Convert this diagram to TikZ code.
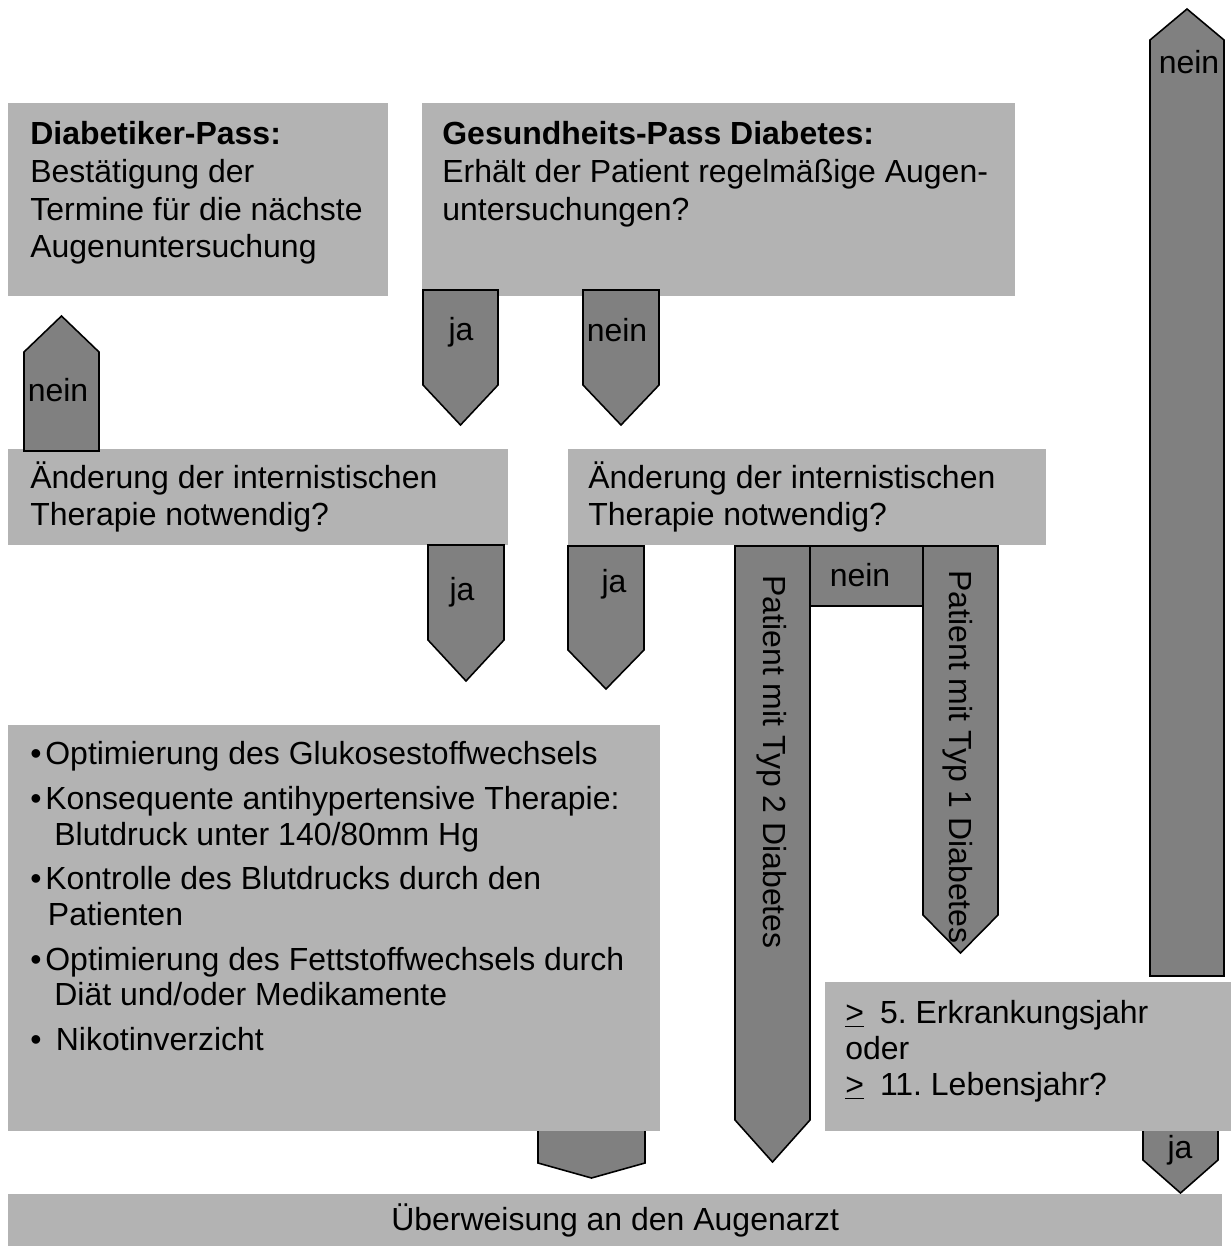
\documentclass[tikz,border=0pt]{standalone}
\usepackage{fontspec}
\setmainfont{Liberation Sans}
\usetikzlibrary{positioning}
\definecolor{boxgray}{RGB}{179,179,179}
\definecolor{arrowgray}{RGB}{128,128,128}
\frenchspacing

\begin{document}
\begin{tikzpicture}[
    x=0.02cm, y=-0.02cm, % pixel grid, y down
    % --- STYLES ---
    box/.style={fill=boxgray, draw=none, inner sep=0pt, anchor=north west},
    txt/.style={inner sep=0pt, anchor=north west, align=left, font=\fontsize{18.2}{21.5}\selectfont},
    blockarrow/.style={fill=arrowgray, draw=black, line width=0.9pt, line join=miter},
    lbl/.style={inner sep=0pt, font=\fontsize{18.2}{21.5}\selectfont}
]
\useasboundingbox (0,0) rectangle (1231,1246);

% --- ARROWS BEHIND BOXES ---
\draw [blockarrow] (538,1120) -- (645,1120) -- (645,1163) -- (591.5,1178) -- (538,1163) -- cycle;
\draw [blockarrow] (1143,1120) -- (1218,1120) -- (1218,1160) -- (1180.5,1193) -- (1143,1160) -- cycle;

% --- BOXES ---
\node (dpass) [box, minimum width=7.6cm, minimum height=3.86cm] at (8,103) {};
\node (gpass) [box, minimum width=11.86cm, minimum height=3.86cm] at (422,103) {};
\node (aend_l) [box, minimum width=10cm, minimum height=1.92cm] at (8,449) {};
\node (aend_r) [box, minimum width=9.56cm, minimum height=1.92cm] at (568,449) {};
\node (massn) [box, minimum width=13.04cm, minimum height=8.12cm] at (8,725) {};
\node (alter) [box, minimum width=8.12cm, minimum height=2.98cm] at (825,982) {};
\node (ueber) [box, minimum width=24.28cm, minimum height=1.04cm] at (8,1194) {};

% --- ARROWS ON TOP ---
\draw [blockarrow] (423,290) -- (498,290) -- (498,385) -- (460.5,425) -- (423,385) -- cycle;
\draw [blockarrow] (583,290) -- (659,290) -- (659,385) -- (621,425) -- (583,385) -- cycle;
\draw [blockarrow] (24,451) -- (24,352) -- (61.5,316) -- (99,352) -- (99,451) -- cycle;
\draw [blockarrow] (428,545) -- (504,545) -- (504,640) -- (466,681) -- (428,640) -- cycle;
\draw [blockarrow] (568,546) -- (644,546) -- (644,650) -- (606,689) -- (568,650) -- cycle;
\draw [blockarrow] (810,546) rectangle (923,606);
\draw [blockarrow] (735,546) -- (810,546) -- (810,1120) -- (772.5,1162) -- (735,1120) -- cycle;
\draw [blockarrow] (923,546) -- (998,546) -- (998,915) -- (960.5,953) -- (923,915) -- cycle;
\draw [blockarrow] (1150,976) -- (1150,40) -- (1187,9) -- (1224,40) -- (1224,976) -- cycle;

% --- BOX TEXTS ---
\node (dpass_t) [txt] at ([shift={(22,18)}]dpass.north west) {\textbf{Diabetiker-Pass:}\\Bestätigung der\\Termine für die nächste\\Augenuntersuchung};
\node (gpass_t) [txt] at ([shift={(20,18)}]gpass.north west) {\textbf{Gesundheits-Pass Diabetes:}\\Erhält der Patient regelmäßige Augen-\\untersuchungen?};
\node (aend_l_t) [txt] at ([shift={(22,12)}]aend_l.north west) {Änderung der internistischen\\Therapie notwendig?};
\node (aend_r_t) [txt] at ([shift={(20,12)}]aend_r.north west) {Änderung der internistischen\\Therapie notwendig?};
\node (massn_t) [txt, font=\fontsize{18.2}{20.4}\selectfont] at ([shift={(22,16)}]massn.north west)
    {•\hspace*{0.12em}Optimierung des Glukosestoffwechsels\\[5pt]
     •\hspace*{0.12em}Konsequente antihypertensive Therapie:\\
     \hspace*{0.75em}Blutdruck unter 140/80mm Hg\\[5pt]
     •\hspace*{0.12em}Kontrolle des Blutdrucks durch den\\
     \hspace*{0.55em}Patienten\\[5pt]
     •\hspace*{0.12em}Optimierung des Fettstoffwechsels durch\\
     \hspace*{0.75em}Diät und/oder Medikamente\\[5pt]
     •\hspace*{0.45em}Nikotinverzicht};
\node (alter_t) [txt, font=\fontsize{18.2}{20.6}\selectfont] at ([shift={(20,18)}]alter.north west)
    {\underline{>}\hspace*{0.5em}5. Erkrankungsjahr\\oder\\\underline{>}\hspace*{0.5em}11. Lebensjahr?};
\node (ueber_t) [lbl] at (ueber.center) {Überweisung an den Augenarzt};

% --- ARROW LABELS ---
\node (ja_g) [lbl] at (461,332) {ja};
\node (nein_g) [lbl] at (617,330) {nein};
\node (nein_l) [lbl] at (58,390) {nein};
\node (ja_l) [lbl] at (462,592) {ja};
\node (ja_r) [lbl] at (614,584) {ja};
\node (nein_r) [lbl] at (860,575) {nein};
\node (typ2) [lbl, rotate=-90] at (772,762) {Patient mit Typ 2 Diabetes};
\node (typ1) [lbl, rotate=-90] at (958,757) {Patient mit Typ 1 Diabetes};
\node (nein_t) [lbl] at (1189,62) {nein};
\node (ja_a) [lbl] at (1180,1150) {ja};

\end{tikzpicture}
\end{document}
